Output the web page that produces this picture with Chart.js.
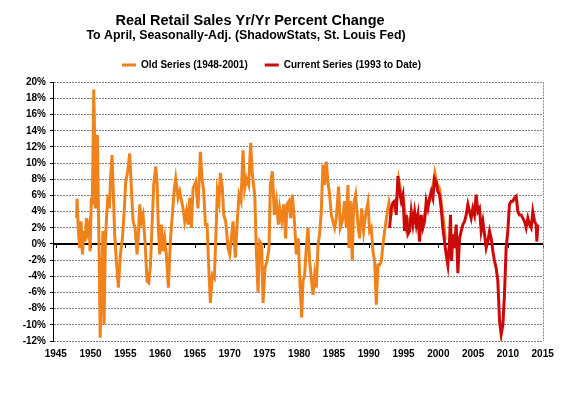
<!DOCTYPE html>
<html>
<head>
<meta charset="utf-8">
<script src="https://cdn.jsdelivr.net/npm/chart.js@4.4.1/dist/chart.umd.min.js"></script>
<style>
  html, body { margin: 0; padding: 0; background: #fff; }
  canvas { display: block; }
</style>
</head>
<body>
<canvas id="chart" width="578" height="397"></canvas>
<script>
// decimal year / yr-yr % change
const oldYears = [
  1948.00, 1948.06, 1948.25, 1948.44, 1948.63, 1948.83, 1949.02, 1949.21,
  1949.40, 1949.59, 1949.79, 1949.93, 1950.12, 1950.26, 1950.46, 1950.60,
  1950.70, 1950.84, 1950.98, 1951.13, 1951.25, 1951.38, 1951.60, 1951.78,
  1951.94, 1952.13, 1952.32, 1952.51, 1952.71, 1952.90, 1953.09, 1953.28,
  1953.47, 1953.71, 1954.00, 1954.29, 1954.58, 1954.86, 1955.05, 1955.34,
  1955.63, 1955.82, 1956.11, 1956.40, 1956.69, 1956.88, 1957.07, 1957.31,
  1957.55, 1957.83, 1958.12, 1958.36, 1958.60, 1958.79, 1959.08, 1959.37,
  1959.56, 1959.75, 1959.94, 1960.18, 1960.42, 1960.66, 1960.90, 1961.19,
  1961.47, 1961.76, 1962.05, 1962.24, 1962.58, 1962.82, 1963.30, 1963.54,
  1963.78, 1964.02, 1964.26, 1964.50, 1964.74, 1965.12, 1965.45, 1965.79,
  1966.03, 1966.27, 1966.51, 1966.75, 1967.04, 1967.23, 1967.52, 1967.80,
  1968.09, 1968.23, 1968.47, 1968.66, 1968.95, 1969.14, 1969.43, 1969.77,
  1970.01, 1970.24, 1970.48, 1970.82, 1971.06, 1971.35, 1971.63, 1971.92,
  1972.16, 1972.40, 1972.73, 1973.02, 1973.26, 1973.60, 1973.84, 1974.08,
  1974.32, 1974.60, 1974.80, 1975.08, 1975.37, 1975.66, 1975.85, 1976.14,
  1976.42, 1976.71, 1977.00, 1977.19, 1977.48, 1977.77, 1978.05, 1978.24,
  1978.53, 1978.77, 1979.01, 1979.35, 1979.58, 1979.87, 1980.06, 1980.35,
  1980.54, 1980.78, 1981.02, 1981.26, 1981.50, 1981.74, 1981.98, 1982.22,
  1982.46, 1982.70, 1982.93, 1983.17, 1983.41, 1983.65, 1983.89, 1984.13,
  1984.37, 1984.61, 1984.85, 1985.09, 1985.33, 1985.66, 1985.90, 1986.19,
  1986.53, 1986.77, 1987.01, 1987.15, 1987.34, 1987.63, 1987.82, 1988.11,
  1988.44, 1988.68, 1988.97, 1989.26, 1989.54, 1989.88, 1990.12, 1990.36,
  1990.60, 1990.84, 1991.08, 1991.32, 1991.56, 1991.80, 1992.04, 1992.28,
  1992.61, 1992.90, 1993.20, 1993.60, 1994.00, 1994.30, 1994.60, 1995.00,
  1995.40, 1995.80, 1996.20, 1996.60, 1997.00, 1997.40, 1997.80, 1998.20,
  1998.60, 1999.00, 1999.50, 1999.80, 2000.20, 2000.50, 2000.80, 2001.00
];
const oldValues = [
  3.2, 5.6, 1.6, -0.5, 2.8, -1.3, 1.6, 0.3,
  3.2, 1.6, 2.4, -0.9, 5.7, 4.9, 19.1, 12.7,
  4.4, 8.6, 13.5, 4.4, -2.1, -11.6, -4.6, 1.6,
  -10.0, 0.3, 3.6, 6.1, 4.4, 8.6, 11.0, 6.1,
  1.2, -2.1, -5.4, -1.3, 0.7, 4.4, 7.7, 9.0,
  11.2, 7.7, 2.8, 2.0, -1.3, 1.2, 4.9, 2.8,
  3.6, 0.3, -4.6, -4.8, -2.8, 1.2, 7.3, 9.6,
  7.7, 2.0, -1.3, 2.4, -0.9, 0.7, -1.3, -5.4,
  0.3, 3.6, 6.9, 8.1, 5.7, 6.5, 4.4, 2.8,
  4.0, 2.4, 5.7, 2.0, 6.9, 7.7, 4.4, 11.4,
  8.1, 6.5, 2.4, 2.4, -3.8, -7.3, -3.8, -4.2,
  2.8, 6.5, 5.3, 8.8, 6.9, 3.6, 2.8, -0.5,
  -1.3, 0.7, 2.8, -1.7, 2.4, 6.1, 5.3, 11.6,
  6.9, 8.1, 7.3, 12.5, 8.6, 6.1, -0.9, -6.0,
  0.3, -0.1, -7.3, -3.0, -2.1, -0.5, 7.3, 9.0,
  3.6, 5.3, 2.4, 4.4, 2.8, 4.9, 0.7, 4.9,
  5.3, 3.2, 6.1, 2.4, -1.3, 0.7, -4.0, -9.1,
  -4.6, -3.8, -0.5, 2.0, -2.1, -4.2, -6.3, -3.8,
  -5.4, -0.1, 1.2, 4.0, 9.8, 7.3, 10.2, 7.7,
  6.1, 3.6, 2.8, 2.0, 3.2, 7.1, 2.0, 2.8,
  5.3, 2.0, 7.3, -0.5, 5.3, -2.1, 4.9, 6.1,
  2.4, 0.7, 4.4, 1.6, 3.6, 5.1, 1.6, 2.0,
  -0.9, -2.1, -7.5, -2.6, -2.6, -2.1, -0.1, 1.6,
  3.6, 5.1, 3.6, 5.0, 5.4, 8.0, 6.5, 5.5,
  2.0, 3.0, 2.5, 3.8, 2.8, 2.5, 3.0, 4.0,
  5.0, 5.8, 8.8, 7.5, 6.8, 4.5, 2.5, 0.5
];

const curYears = [
  1992.99, 1993.23, 1993.47, 1993.71, 1993.95, 1994.19, 1994.43, 1994.67,
  1994.91, 1995.15, 1995.39, 1995.63, 1995.87, 1996.11, 1996.35, 1996.59,
  1996.83, 1997.07, 1997.30, 1997.54, 1997.78, 1998.02, 1998.26, 1998.50,
  1998.74, 1998.98, 1999.22, 1999.46, 1999.70, 1999.93, 2000.17, 2000.41,
  2000.65, 2000.89, 2001.13, 2001.37, 2001.61, 2001.75, 2001.90, 2002.09,
  2002.33, 2002.57, 2002.81, 2003.05, 2003.29, 2003.53, 2003.77, 2004.01,
  2004.25, 2004.49, 2004.72, 2004.96, 2005.20, 2005.44, 2005.68, 2005.92,
  2006.16, 2006.40, 2006.64, 2006.88, 2007.12, 2007.36, 2007.60, 2007.84,
  2008.08, 2008.32, 2008.56, 2008.80, 2009.04, 2009.28, 2009.51, 2009.75,
  2009.99, 2010.23, 2010.47, 2010.71, 2010.95, 2011.19, 2011.43, 2011.67,
  2011.91, 2012.15, 2012.39, 2012.63, 2012.87, 2013.11, 2013.35, 2013.59,
  2013.83, 2014.07, 2014.16, 2014.31
];
const curValues = [
  2.0, 4.4, 5.1, 5.3, 3.6, 8.4, 6.5, 5.3,
  6.1, 1.6, 3.6, 1.2, 1.6, 4.0, 2.4, 4.0,
  2.4, 3.6, 0.3, 3.6, 2.0, 2.8, 5.3, 4.4,
  5.7, 6.5, 5.7, 8.1, 7.7, 6.5, 6.1, 4.4,
  2.0, 0.3, -1.3, -2.6, 0.3, 3.6, -2.1, 1.2,
  -0.5, 2.4, -3.6, 0.7, 1.6, 2.4, 2.8, 3.6,
  4.9, 4.0, 3.2, 4.4, 3.6, 6.1, 4.0, 4.4,
  1.6, 2.8, 1.2, -0.5, 0.3, 1.6, 0.7, -0.9,
  -2.1, -3.0, -4.6, -9.5, -11.2, -10.0, -6.3, -0.5,
  1.6, 4.9, 5.3, 5.3, 5.7, 5.9, 4.0, 3.6,
  3.6, 3.2, 2.8, 2.0, 3.2, 2.4, 2.0, 4.0,
  2.8, 2.4, 0.3, 2.4
];

const xTicks = [1945, 1950, 1955, 1960, 1965, 1970, 1975, 1980, 1985, 1990, 1995, 2000, 2005, 2010, 2015];
const seriesNames = ['Old Series (1948-2001)', 'Current Series (1993 to Date)'];
const chartTitle = 'Real Retail Sales Yr/Yr Percent Change';
const chartSubtitle = 'To April, Seasonally-Adj. (ShadowStats, St. Louis Fed)';

const FONT = '"Liberation Sans", Arial, Helvetica, sans-serif';
const ORANGE = '#f0821c';
const RED = '#cc0a0a';

const toPoints = (xs, ys) => xs.map((x, i) => ({ x: x, y: ys[i] }));

// title + subtitle are drawn by hand so they can sit left of the plot centre
const titles = {
  id: 'titles',
  afterDraw(chart) {
    const ctx = chart.ctx;
    ctx.save();
    ctx.fillStyle = '#000';
    ctx.textAlign = 'center';
    ctx.textBaseline = 'alphabetic';
    ctx.font = 'bold 14.5px ' + FONT;
    ctx.fillText(chartTitle, 250, 25);
    ctx.font = 'bold 12.4px ' + FONT;
    ctx.fillText(chartSubtitle, 246, 39);
    ctx.restore();
  }
};

// zero line with year ticks, and the dotted right edge of the plot
const frame = {
  id: 'frame',
  beforeDatasetsDraw(chart) {
    const { ctx, chartArea: a, scales: { x, y } } = chart;
    const y0 = Math.round(y.getPixelForValue(0));
    ctx.save();
    ctx.strokeStyle = '#000';
    ctx.lineWidth = 2;
    ctx.beginPath();
    ctx.moveTo(a.left, y0);
    ctx.lineTo(a.right, y0);
    ctx.stroke();
    ctx.lineWidth = 1;
    ctx.beginPath();
    xTicks.forEach(t => {
      const px = Math.round(x.getPixelForValue(t)) + 0.5;
      ctx.moveTo(px, y0);
      ctx.lineTo(px, y0 + 4);
    });
    ctx.stroke();

    const xr = Math.round(a.right) + 0.5;
    ctx.strokeStyle = '#8a8a8a';
    ctx.setLineDash([2, 1]);
    ctx.beginPath();
    ctx.moveTo(xr, a.top);
    ctx.lineTo(xr, a.bottom);
    ctx.stroke();
    ctx.restore();
  }
};

new Chart(document.getElementById('chart'), {
  type: 'line',
  data: {
    datasets: [
      {
        label: seriesNames[0],
        data: toPoints(oldYears, oldValues),
        borderColor: ORANGE,
        backgroundColor: ORANGE,
        borderWidth: 3,
        pointRadius: 0,
        tension: 0,
        order: 2
      },
      {
        label: seriesNames[1],
        data: toPoints(curYears, curValues),
        borderColor: RED,
        backgroundColor: RED,
        borderWidth: 3,
        pointRadius: 0,
        tension: 0,
        order: 1
      }
    ]
  },
  options: {
    responsive: false,
    animation: false,
    devicePixelRatio: 1,
    layout: { padding: { top: 43, right: 35, bottom: 36, left: 0 } },
    plugins: {
      title: { display: false },
      tooltip: { enabled: false },
      legend: {
        position: 'top',
        labels: {
          boxWidth: 14,
          boxHeight: 3,
          padding: 17,
          color: '#000',
          font: { family: FONT, size: 10, weight: 'bold' },
          sort: (a, b) => a.datasetIndex - b.datasetIndex,
          generateLabels: c => Chart.defaults.plugins.legend.labels.generateLabels(c)
            .map(l => Object.assign(l, { lineWidth: 0 }))
        }
      }
    },
    scales: {
      x: {
        type: 'linear',
        min: 1944.6,
        max: 2015.05,
        afterBuildTicks: axis => { axis.ticks = xTicks.map(v => ({ value: v })); },
        afterFit: s => { s.height = 20; },
        grid: { display: false, drawTicks: false },
        border: { display: false },
        ticks: {
          autoSkip: false,
          maxRotation: 0,
          padding: 7,
          color: '#000',
          font: { family: FONT, size: 10, weight: 'bold' },
          callback: v => String(v)
        }
      },
      // keeps a small gap between the legend and the top of the plot
      xTop: {
        type: 'linear',
        position: 'top',
        grid: { display: false },
        border: { display: false },
        ticks: { display: false },
        afterFit: s => { s.height = 2.3; }
      },
      y: {
        min: -12,
        max: 20,
        afterFit: s => { s.width = 53; },
        grid: {
          color: '#808080',
          lineWidth: 1,
          drawTicks: true,
          tickLength: 3,
          tickColor: '#000'
        },
        border: { display: true, color: '#000', width: 1, dash: [2, 1] },
        ticks: {
          stepSize: 2,
          padding: 4,
          color: '#000',
          font: { family: FONT, size: 10, weight: 'bold' },
          callback: v => v + '%'
        }
      }
    }
  },
  plugins: [frame, titles]
});
</script>
</body>
</html>
